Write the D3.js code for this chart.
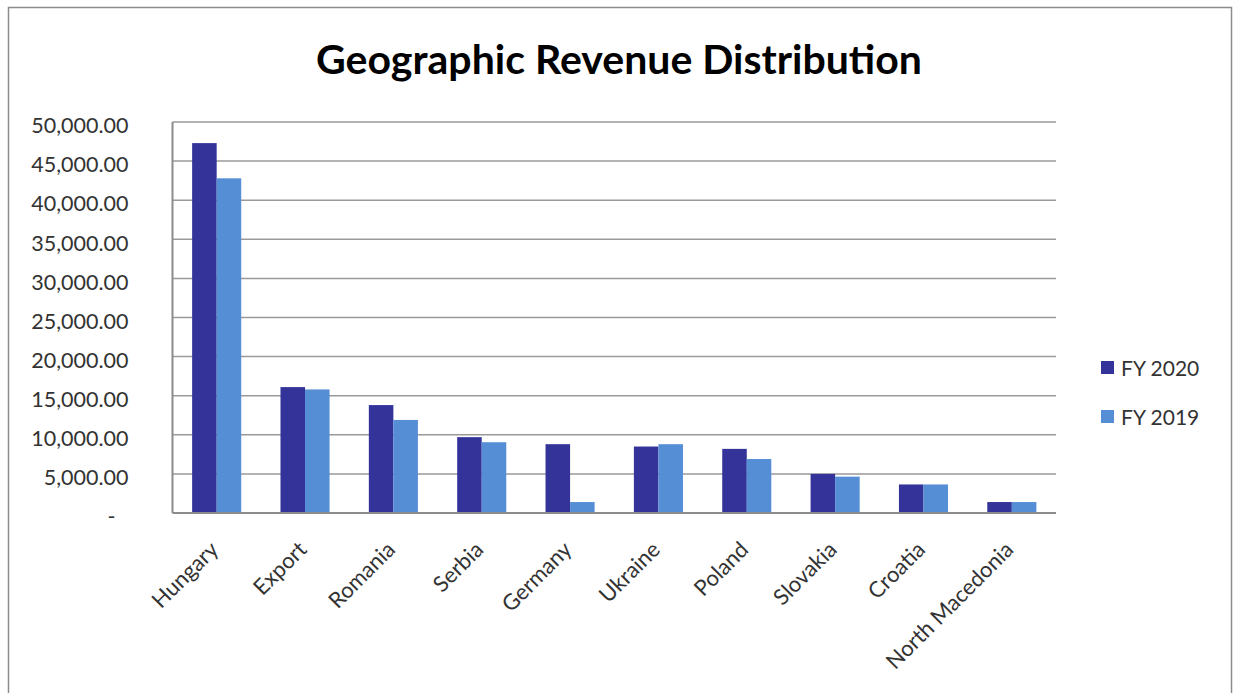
<!DOCTYPE html>
<html>
<head>
<meta charset="utf-8">
<script src="https://cdn.jsdelivr.net/npm/d3@7"></script>
<style>
  html, body { margin: 0; padding: 0; background: #fff; }
  svg { display: block; }
  text { font-family: Lato, "Open Sans", sans-serif; }
</style>
</head>
<body>
<svg id="chart" width="1233" height="693"></svg>
<script>
// Revenue by country, two fiscal years
const regions = ["Hungary", "Export", "Romania", "Serbia", "Germany", "Ukraine", "Poland", "Slovakia", "Croatia", "North Macedonia"];
const fy2020 = [47300, 16100, 13800, 9700, 8800, 8500, 8200, 5000, 3650, 1400];
const fy2019 = [42800, 15800, 11900, 9050, 1400, 8800, 6900, 4650, 3650, 1400];
const seriesNames = ["FY 2020", "FY 2019"];
const seriesColors = ["#333399", "#558ED5"];
const yTicks = [0, 5000, 10000, 15000, 20000, 25000, 30000, 35000, 40000, 45000, 50000];
const chartTitle = "Geographic Revenue Distribution";

const svg = d3.select("#chart");

// outer chart frame
svg.append("rect")
  .attr("x", 8.5).attr("y", 7.5)
  .attr("width", 1223).attr("height", 720)
  .attr("fill", "none").attr("stroke", "#8c8c8c").attr("stroke-width", 1.5);

const plot = { left: 172.5, right: 1056, top: 122, bottom: 513 };

const x = d3.scaleBand().domain(regions).range([plot.left, plot.right]).paddingInner(0).paddingOuter(0);
const groupW = x.bandwidth() / 1.8;
const xs = d3.scaleBand().domain(seriesNames).range([0, groupW]);
const y = d3.scaleLinear().domain([0, 50000]).range([plot.bottom, plot.top]);

// horizontal gridlines
svg.append("g")
  .selectAll("line")
  .data(yTicks.filter(d => d > 0))
  .join("line")
  .attr("x1", plot.left).attr("x2", plot.right)
  .attr("y1", d => y(d)).attr("y2", d => y(d))
  .attr("stroke", "#9a9a9a").attr("stroke-width", 1.5);

// y axis labels
const fmt = d3.format(",.2f");
const yAxis = svg.append("g")
  .attr("transform", `translate(${plot.left},0)`)
  .call(d3.axisLeft(y).tickValues(yTicks).tickSize(0).tickPadding(44)
    .tickFormat(d => d === 0 ? "-" : fmt(d)));
yAxis.select(".domain").remove();
yAxis.selectAll("text")
  .attr("font-family", "Lato, sans-serif")
  .attr("font-size", 21.5)
  .attr("fill", "#333")
  .attr("dy", "0.5em");
yAxis.selectAll(".tick").filter(d => d === 0).select("text").attr("dx", -13);

// bars
const rows = regions.map((r, i) => ({ region: r, values: [fy2020[i], fy2019[i]] }));
const groups = svg.append("g")
  .selectAll("g")
  .data(rows)
  .join("g")
  .attr("transform", d => `translate(${x(d.region) + (x.bandwidth() - groupW) / 2},0)`);
groups.selectAll("rect")
  .data(d => d.values.map((v, k) => ({ key: seriesNames[k], value: v, color: seriesColors[k] })))
  .join("rect")
  .attr("x", d => xs(d.key))
  .attr("y", d => y(d.value))
  .attr("width", xs.bandwidth())
  .attr("height", d => y(0) - y(d.value))
  .attr("fill", d => d.color);

// axis lines
svg.append("line")
  .attr("x1", plot.left).attr("x2", plot.left)
  .attr("y1", plot.top).attr("y2", plot.bottom)
  .attr("stroke", "#8c8c8c").attr("stroke-width", 2);
svg.append("line")
  .attr("x1", plot.left).attr("x2", plot.right)
  .attr("y1", plot.bottom).attr("y2", plot.bottom)
  .attr("stroke", "#8c8c8c").attr("stroke-width", 2);

// rotated category labels
const xAxis = svg.append("g")
  .attr("transform", `translate(0,${plot.bottom})`)
  .call(d3.axisBottom(x).tickSize(0).tickPadding(0));
xAxis.select(".domain").remove();
xAxis.selectAll("text")
  .attr("font-family", "Lato, sans-serif")
  .attr("font-size", 22)
  .attr("fill", "#333")
  .attr("text-anchor", "end")
  .attr("dy", 0)
  .attr("y", 0)
  .attr("transform", "translate(3,38) rotate(-45)");

// title
const title = svg.append("text")
  .attr("x", 619).attr("y", 74)
  .attr("text-anchor", "middle")
  .attr("font-family", "Lato, sans-serif")
  .attr("font-weight", "bold")
  .attr("font-size", 36)
  .attr("fill", "#000")
  .text(chartTitle);
const tw = title.node().getComputedTextLength();
title.attr("font-size", 36 * 606 / tw);

// legend
const legend = svg.append("g")
  .selectAll("g")
  .data(seriesNames)
  .join("g")
  .attr("transform", (d, i) => `translate(1101,${361 + i * 49})`);
legend.append("rect")
  .attr("width", 13).attr("height", 13)
  .attr("fill", (d, i) => seriesColors[i]);
legend.append("text")
  .attr("x", 20).attr("y", 15)
  .attr("font-family", "Lato, sans-serif")
  .attr("font-size", 21)
  .attr("fill", "#333")
  .text(d => d);
</script>
</body>
</html>
